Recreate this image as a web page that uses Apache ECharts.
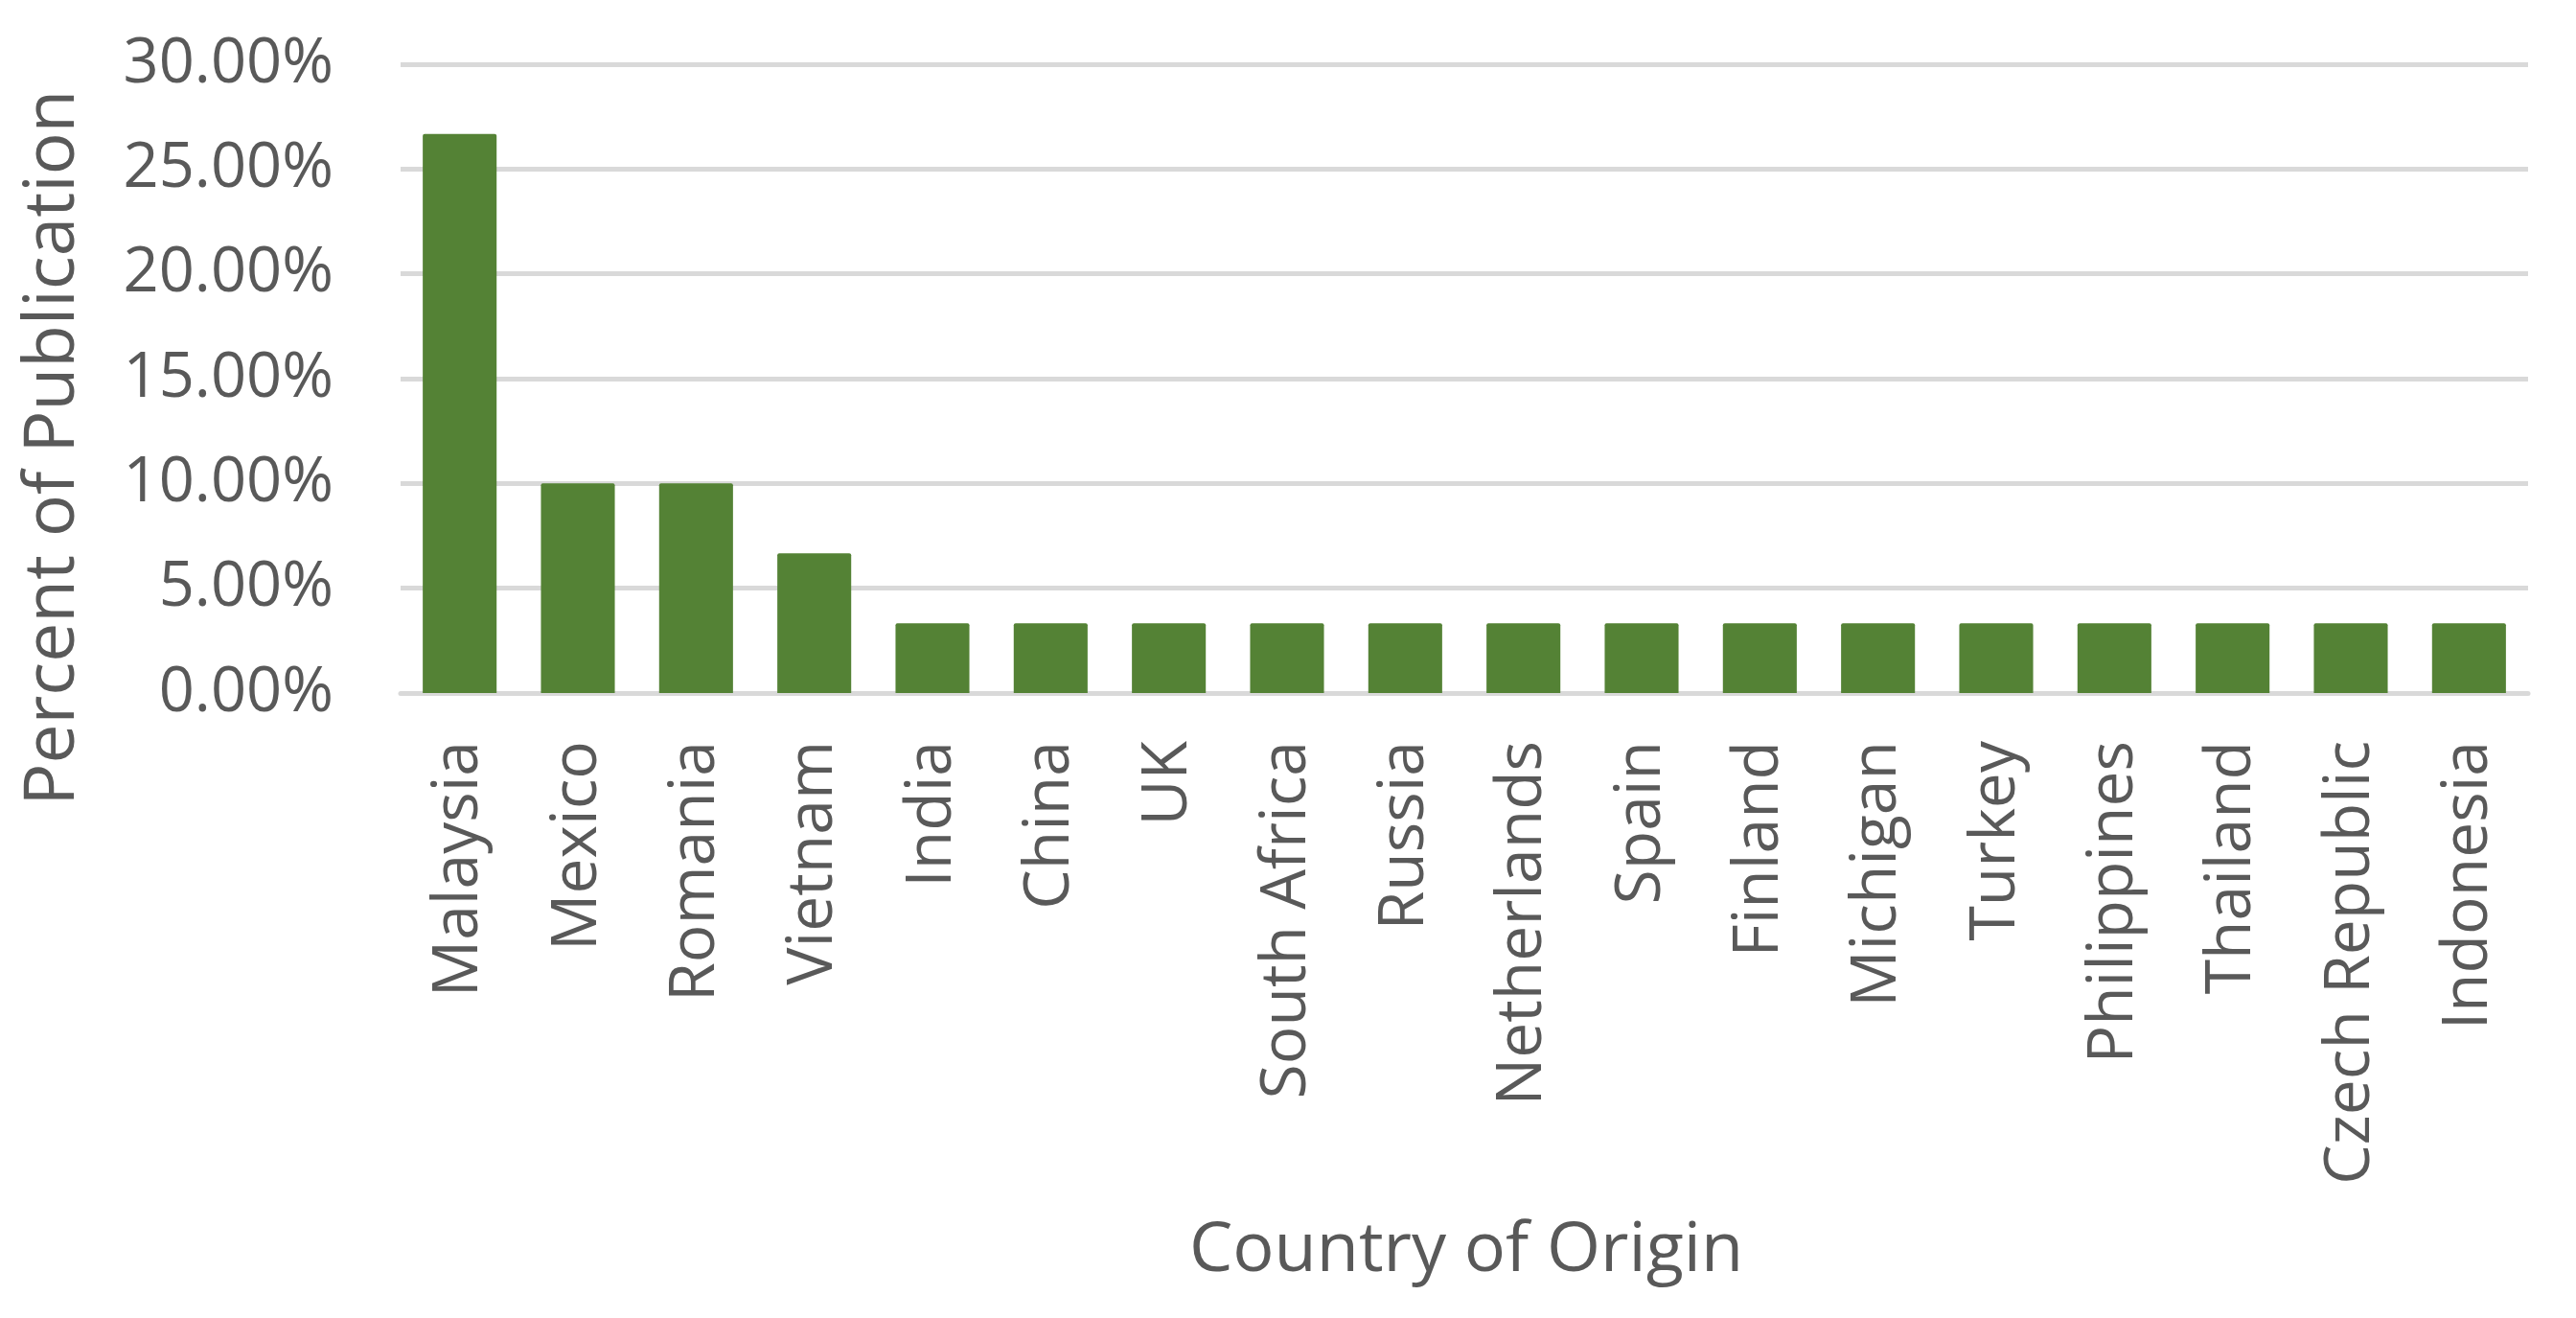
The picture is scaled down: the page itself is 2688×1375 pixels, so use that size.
<!DOCTYPE html>
<html>
<head>
<meta charset="utf-8">
<script src="https://cdn.jsdelivr.net/npm/echarts@6/dist/echarts.min.js"></script>
<style>
  html, body { margin: 0; padding: 0; background: #fff; }
  #main { width: 2688px; height: 1375px; }
</style>
</head>
<body>
<div id="main"></div>
<script>
  // categories and values (percent of publications)
  var countries = ['Malaysia', 'Mexico', 'Romania', 'Vietnam', 'India', 'China', 'UK', 'South Africa',
    'Russia', 'Netherlands', 'Spain', 'Finland', 'Michigan', 'Turkey', 'Philippines', 'Thailand',
    'Czech Republic', 'Indonesia'];
  var percents = [26.67, 10.0, 10.0, 6.67, 3.33, 3.33, 3.33, 3.33, 3.33, 3.33, 3.33, 3.33, 3.33,
    3.33, 3.33, 3.33, 3.33, 3.33];
  var yTicks = [0, 5, 10, 15, 20, 25, 30];

  var textColor = '#595959';
  var fontFam = '"Open Sans", sans-serif';

  var chartDom = document.getElementById('main');
  var myChart = echarts.init(chartDom);
  var option = {
    animation: false,
    backgroundColor: '#ffffff',
    grid: {
      left: 418,
      right: 50,
      top: 67,
      bottom: 652,
      containLabel: false
    },
    xAxis: {
      type: 'category',
      data: countries,
      axisTick: { show: false },
      axisLine: { lineStyle: { color: '#D9D9D9', width: 5 } },
      axisLabel: {
        rotate: 90,
        margin: 50,
        color: textColor,
        fontFamily: fontFam,
        fontSize: 66
      }
    },
    yAxis: {
      type: 'value',
      min: yTicks[0],
      max: yTicks[yTicks.length - 1],
      interval: 5,
      axisLine: { show: false },
      axisTick: { show: false },
      splitLine: { lineStyle: { color: '#D9D9D9', width: 5 } },
      axisLabel: {
        margin: 70,
        color: textColor,
        fontFamily: fontFam,
        fontSize: 65,
        formatter: function (v) { return v.toFixed(2) + '%'; }
      }
    },
    graphic: [
      {
        type: 'text',
        x: 56,
        y: 467,
        rotation: Math.PI / 2,
        style: {
          text: 'Percent of Publication',
          fill: textColor,
          font: '73px "Open Sans", sans-serif',
          textAlign: 'center',
          textVerticalAlign: 'middle'
        }
      },
      {
        type: 'text',
        x: 1530,
        y: 1305,
        style: {
          text: 'Country of Origin',
          fill: textColor,
          font: '72px "Open Sans", sans-serif',
          textAlign: 'center',
          textVerticalAlign: 'middle'
        }
      }
    ],
    series: [
      {
        type: 'bar',
        data: percents,
        barCategoryGap: '37.5%',
        itemStyle: { color: '#548235', borderRadius: [2, 2, 0, 0] }
      }
    ]
  };
  option && myChart.setOption(option);
</script>
</body>
</html>
